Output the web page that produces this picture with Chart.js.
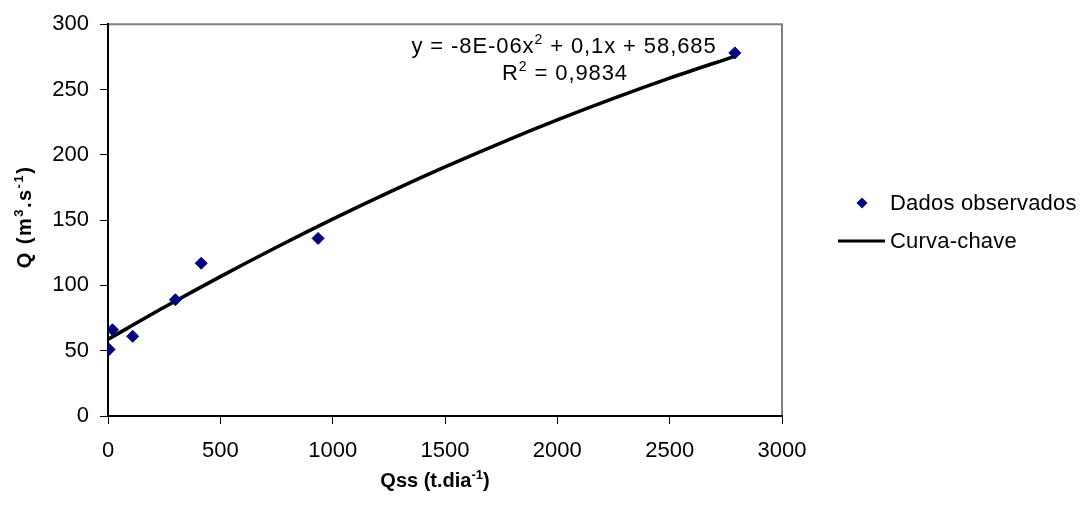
<!DOCTYPE html>
<html>
<head>
<meta charset="utf-8">
<script src="https://cdn.jsdelivr.net/npm/chart.js@4/dist/chart.umd.min.js"></script>
<style>
  html, body { margin: 0; padding: 0; background: #fff; }
  canvas { display: block; }
</style>
</head>
<body>
<canvas id="c" width="1084" height="506"></canvas>
<script>
// Observed discharge vs. suspended sediment load
const qssObs = [5, 20, 110, 300, 415, 935, 2790];
const qObs   = [51, 66, 61, 89, 117, 136, 278];

// Fitted rating curve (quadratic trend line)
const curveQss = [0, 250, 500, 750, 1000, 1250, 1500, 1750, 2000, 2250, 2500, 2790];
const curveQ   = [58.7, 83.2, 106.7, 129.2, 150.7, 171.2, 190.7, 209.2, 226.7, 243.2, 258.7, 275.4];

const xTicks = [0, 500, 1000, 1500, 2000, 2500, 3000];
const yTicks = [0, 50, 100, 150, 200, 250, 300];

const seriesNames = ['Dados observados', 'Curva-chave'];

// Text pieces: [text, isSuperscript]
const xTitleRuns = [['Qss (t.dia', false], ['-1', true], [')', false]];
const yTitleRuns = [['Q (m', false], ['3', true], ['.s', false], ['-1', true], [')', false]];
const eqRuns = [['y = -8E-06x', false], ['2', true], [' + 0,1x + 58,685', false]];
const r2Runs = [['R', false], ['2', true], [' = 0,9834', false]];

const FONT = '"Liberation Sans", Arial, sans-serif';
const MARKER = '#000080';

function runsWidth(ctx, runs, size, weight, spacing) {
  let w = 0;
  ctx.letterSpacing = spacing + 'px';
  for (const [t, sup] of runs) {
    ctx.font = `${weight} ${sup ? Math.round(size * 0.65) : size}px ${FONT}`;
    w += ctx.measureText(t).width;
  }
  return w;
}

// Draws runs centred on (cx, baseline y) in the current transform
function drawRuns(ctx, runs, cx, y, size, weight, spacing = 0) {
  const total = runsWidth(ctx, runs, size, weight, spacing);
  let x = cx - total / 2;
  ctx.letterSpacing = spacing + 'px';
  ctx.textAlign = 'left';
  ctx.textBaseline = 'alphabetic';
  ctx.fillStyle = '#000';
  for (const [t, sup] of runs) {
    const s = sup ? Math.round(size * 0.65) : size;
    ctx.font = `${weight} ${s}px ${FONT}`;
    ctx.fillText(t, x, sup ? y - size * 0.4 : y);
    x += ctx.measureText(t).width;
  }
  ctx.letterSpacing = '0px';
}

const decorations = {
  id: 'decorations',
  beforeDraw(chart) {
    const { ctx, chartArea: a } = chart;
    ctx.save();
    ctx.fillStyle = '#fff';
    ctx.fillRect(0, 0, chart.width, chart.height);
    // plot-area frame (top and right)
    ctx.strokeStyle = '#808080';
    ctx.lineWidth = 2;
    ctx.beginPath();
    ctx.moveTo(a.left, a.top);
    ctx.lineTo(a.right, a.top);
    ctx.lineTo(a.right, a.bottom);
    ctx.stroke();
    ctx.restore();
  },
  afterDraw(chart) {
    const { ctx } = chart;
    ctx.save();

    // axis titles
    drawRuns(ctx, xTitleRuns, 435, 487, 20, 'bold');
    ctx.save();
    ctx.translate(31, 217);
    ctx.rotate(-Math.PI / 2);
    drawRuns(ctx, yTitleRuns, 0, 0, 20, 'bold', 1.5);
    ctx.restore();

    // regression equation
    drawRuns(ctx, eqRuns, 564, 53, 22, 'normal', 0.9);
    drawRuns(ctx, r2Runs, 565, 80, 22, 'normal', 0.9);

    // legend
    const ly1 = 203, ly2 = 241;
    ctx.fillStyle = MARKER;
    ctx.beginPath();
    ctx.moveTo(862 - 5.5, ly1);
    ctx.lineTo(862, ly1 - 5.5);
    ctx.lineTo(862 + 5.5, ly1);
    ctx.lineTo(862, ly1 + 5.5);
    ctx.closePath();
    ctx.fill();
    ctx.strokeStyle = '#000';
    ctx.lineWidth = 3;
    ctx.beginPath();
    ctx.moveTo(838, ly2);
    ctx.lineTo(885, ly2);
    ctx.stroke();
    ctx.fillStyle = '#000';
    ctx.font = `22px ${FONT}`;
    ctx.letterSpacing = '0.2px';
    ctx.textAlign = 'left';
    ctx.textBaseline = 'middle';
    ctx.fillText(seriesNames[0], 890, ly1 + 1);
    ctx.fillText(seriesNames[1], 890, ly2 + 1);
    ctx.letterSpacing = '0px';

    ctx.restore();
  }
};

new Chart(document.getElementById('c'), {
  type: 'scatter',
  data: {
    datasets: [
      {
        label: seriesNames[0],
        data: qssObs.map((x, i) => ({ x, y: qObs[i] })),
        pointStyle: 'rectRot',
        pointRadius: 6,
        pointBackgroundColor: MARKER,
        pointBorderColor: MARKER,
        pointBorderWidth: 1,
        showLine: false,
        order: 0
      },
      {
        type: 'line',
        label: seriesNames[1],
        data: curveQss.map((x, i) => ({ x, y: curveQ[i] })),
        borderColor: '#000',
        borderWidth: 3.5,
        pointRadius: 0,
        fill: false,
        cubicInterpolationMode: 'monotone',
        order: 1
      }
    ]
  },
  options: {
    responsive: false,
    animation: false,
    layout: { padding: { left: 0, top: 24, right: 302, bottom: 0 } },
    plugins: {
      legend: { display: false },
      tooltip: { enabled: false }
    },
    scales: {
      x: {
        type: 'linear',
        min: xTicks[0],
        max: xTicks[xTicks.length - 1],
        afterFit(scale) { scale.height = 90; },
        afterBuildTicks(scale) { scale.ticks = xTicks.map(v => ({ value: v })); },
        ticks: {
          callback: v => String(v),
          color: '#000',
          font: { family: FONT, size: 22 },
          padding: 14,
          maxRotation: 0
        },
        grid: { drawOnChartArea: false, drawTicks: true, tickLength: 8, color: '#000', lineWidth: 1 },
        border: { color: '#000', width: 2 }
      },
      y: {
        type: 'linear',
        min: yTicks[0],
        max: yTicks[yTicks.length - 1],
        afterFit(scale) { scale.width = 108; },
        afterBuildTicks(scale) { scale.ticks = yTicks.map(v => ({ value: v })); },
        ticks: {
          callback: v => String(v),
          color: '#000',
          font: { family: FONT, size: 22 },
          padding: 11
        },
        grid: { drawOnChartArea: false, drawTicks: true, tickLength: 8, color: '#000', lineWidth: 1 },
        border: { color: '#000', width: 2 }
      }
    }
  },
  plugins: [decorations]
});
</script>
</body>
</html>
